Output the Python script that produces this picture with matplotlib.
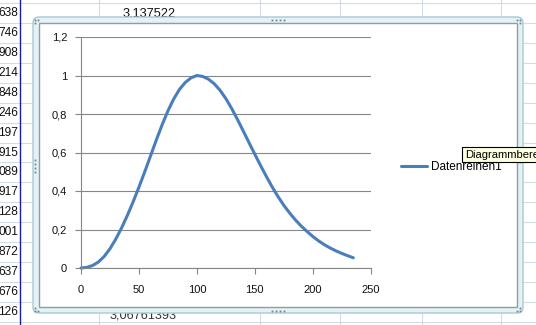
import matplotlib
matplotlib.use("Agg")
import matplotlib.pyplot as plt
from matplotlib.patches import FancyBboxPatch, Rectangle

# ---- data ----
x_vals = [0, 5, 10, 15, 20, 25, 30, 35, 40, 45, 50, 55, 60, 65, 70, 75, 80, 85, 90, 95,
          100, 105, 110, 115, 120, 125, 130, 135, 140, 145, 150, 155, 160, 165, 170, 175,
          180, 185, 190, 195, 200, 205, 210, 215, 220, 225, 230, 235]
y_vals = [0.0, 0.003, 0.013, 0.031, 0.060, 0.100, 0.150, 0.208, 0.273, 0.344, 0.420,
          0.500, 0.582, 0.665, 0.744, 0.816, 0.878, 0.928, 0.964, 0.988,
          1.000, 0.995, 0.981, 0.957, 0.923, 0.880, 0.829, 0.772, 0.712, 0.651,
          0.591, 0.532, 0.475, 0.421, 0.371, 0.326, 0.286, 0.250, 0.218, 0.190,
          0.164, 0.141, 0.121, 0.104, 0.089, 0.076, 0.064, 0.053]
series_name = "Datenreihen1"
y_ticks = [0, 0.2, 0.4, 0.6, 0.8, 1.0, 1.2]
y_tick_labels = ["0", "0,2", "0,4", "0,6", "0,8", "1", "1,2"]
x_ticks = [0, 50, 100, 150, 200, 250]
x_tick_labels = ["0", "50", "100", "150", "200", "250"]
cell_texts_left = ["638", "746", "908", "214", "848", "246", "197", "915", "089", "917",
                   "128", "001", "872", "637", "676", "126"]
cell_text_top = "3,137522"
cell_text_bottom = "3,06761393"
tooltip_text = "Diagrammbere"

W, H = 536, 325
plt.rcParams['font.family'] = ['Liberation Sans', 'DejaVu Sans']
fig = plt.figure(figsize=(W / 100, H / 100), dpi=100)
fig.patch.set_facecolor("white")

# ---- background spreadsheet (pixel coordinates) ----
bg = fig.add_axes([0, 0, 1, 1], zorder=0)
bg.set_xlim(0, W)
bg.set_ylim(H, 0)
bg.axis("off")
grid_c = "#d4dbe8"
for k in range(17):
    yy = 3 + 19.93 * k
    bg.plot([0, W], [yy, yy], color=grid_c, lw=0.8, zorder=1)
for xx in [99, 260, 340, 422, 501]:
    bg.plot([xx, xx], [0, H], color=grid_c, lw=0.8, zorder=1)
bg.plot([20, 20], [0, H], color="#1c1ca0", lw=1.0, zorder=1)
for k, t in enumerate(cell_texts_left):
    bg.text(18, 13 + 19.93 * k, t, ha="right", va="center", fontsize=8.6, color="#111111", zorder=2)
bg.text(176, 13, cell_text_top, ha="right", va="center", fontsize=9.2, color="#111111", zorder=2)
bg.text(177, 316, cell_text_bottom, ha="right", va="center", fontsize=9.2, color="#333333", zorder=2)

# chart frame
outer = FancyBboxPatch((33, 17), 490, 296, boxstyle="round,pad=0,rounding_size=6",
                       facecolor="#e4f2f5", edgecolor="#a9c9d2", lw=1.0, zorder=5)
bg.add_patch(outer)
inner = Rectangle((39, 23), 478, 284, facecolor="white", edgecolor="#8e9ea3", lw=1.0, zorder=6)
bg.add_patch(inner)
# handles
dot_c = "#6f8790"
for (hx, hy) in [(272, 19.5), (276, 19.5), (280, 19.5), (284, 19.5),
                 (272, 311), (276, 311), (280, 311), (284, 311),
                 (35, 160), (35, 164), (35, 168), (35, 172),
                 (520, 150), (520, 154), (520, 158), (520, 162),
                 (517, 19.5), (520, 19.5), (520, 22.5), (35, 311), (38, 311), (35, 308),
                 (35, 19.5), (38, 19.5), (35, 22.5), (517, 311), (520, 311), (520, 308)]:
    bg.plot(hx, hy, marker="s", ms=1.3, color=dot_c, mec="none", zorder=7)

# ---- main chart ----
ax = fig.add_axes([81 / W, 1 - 268 / H, (370.7 - 81) / W, (268 - 37) / H], zorder=2)
ax.patch.set_alpha(0)
line_c = "#4a7ebb"
ax.plot(x_vals, y_vals, color=line_c, lw=2.2, solid_capstyle="round", label=series_name,
        clip_on=False)
ax.set_xlim(0, 250)
ax.set_ylim(0, 1.2)
ax.set_xticks(x_ticks)
ax.set_xticklabels(x_tick_labels)
ax.set_yticks(y_ticks)
ax.set_yticklabels(y_tick_labels)
ax.grid(axis="y", color="#868686", lw=0.8)
ax.set_axisbelow(True)
for s in ["top", "right"]:
    ax.spines[s].set_visible(False)
for s in ["left", "bottom"]:
    ax.spines[s].set_color("#868686")
    ax.spines[s].set_linewidth(0.8)
ax.tick_params(axis="both", direction="out", length=4, width=0.8, color="#868686",
               labelsize=8, labelcolor="#111111")
ax.tick_params(axis="y", pad=6)
ax.tick_params(axis="x", pad=8)

ax.legend(loc="center left", bbox_to_anchor=(401 / W, 1 - 167 / H),
          bbox_transform=fig.transFigure, frameon=False, fontsize=8.5,
          handlelength=2.2, handletextpad=0.3, borderpad=0, borderaxespad=0)

# tooltip (extends past the right edge, as in the screenshot)
tip = Rectangle((462 / W, 1 - 162 / H), 80 / W, 15 / H, transform=fig.transFigure,
                facecolor="#ffffe1", edgecolor="black", lw=0.8, zorder=10)
fig.add_artist(tip)
fig.text(465 / W, 1 - 154.5 / H, tooltip_text, ha="left", va="center", fontsize=8,
         color="black", zorder=11)

fig.savefig("out.png", dpi=100)
